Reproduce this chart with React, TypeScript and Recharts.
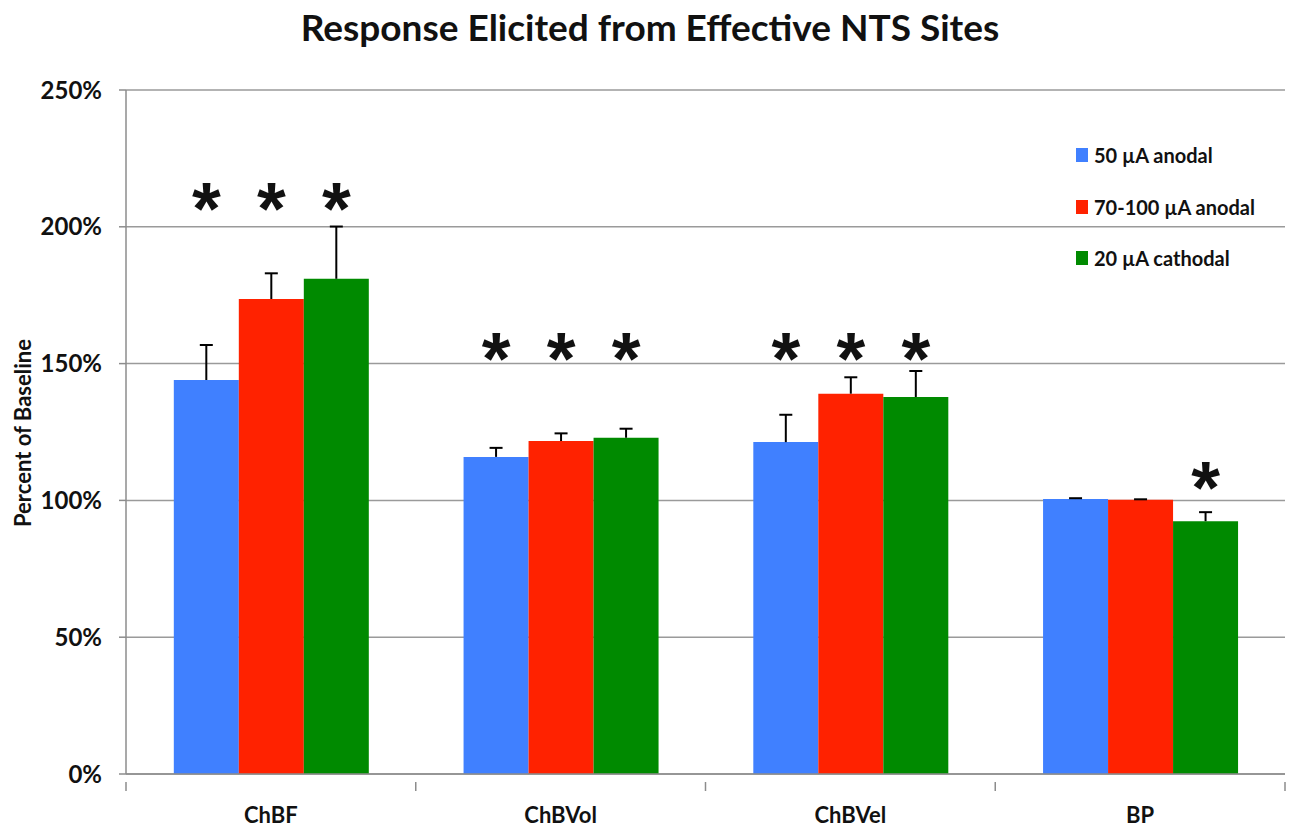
import { BarChart, Bar, XAxis, YAxis, CartesianGrid, LabelList } from "recharts";

const categories = ["ChBF", "ChBVol", "ChBVel", "BP"];
const anodal50 = [144.0, 115.9, 121.3, 100.5];
const anodal50Err = [12.8, 3.3, 10.0, 0.3];
const anodal70 = [173.6, 121.7, 139.0, 100.2];
const anodal70Err = [9.4, 2.8, 6.0, 0.2];
const cathodal20 = [181.0, 122.9, 137.8, 92.4];
const cathodal20Err = [19.1, 3.3, 9.5, 3.3];
// height (in %) where the significance asterisks sit for each category
const starLevel = [210.5, 155.7, 155.7, 108.5];
const stars50 = [true, true, true, false];
const stars70 = [true, true, true, false];
const stars20 = [true, true, true, true];
const yTicks = [0, 50, 100, 150, 200, 250];

const BLUE = "#4080ff";
const RED = "#ff2200";
const GREEN = "#008a00";
const FONT = "Lato, 'Open Sans', sans-serif";

const data = categories.map((name, i) => ({
  name,
  a50: anodal50[i],
  a70: anodal70[i],
  c20: cathodal20[i],
}));

const series = [
  { key: "a50", label: "50 µA anodal", color: BLUE, err: anodal50Err, stars: stars50 },
  { key: "a70", label: "70-100 µA anodal", color: RED, err: anodal70Err, stars: stars70 },
  { key: "c20", label: "20 µA cathodal", color: GREEN, err: cathodal20Err, stars: stars20 },
];

const W = 1300;
const H = 827;
const LEFT = 126;
const RIGHT = 15;
const BAND = (W - LEFT - RIGHT) / categories.length;

function CategoryTick(props: any) {
  const { x, y, payload, index } = props;
  const left = x - BAND / 2;
  return (
    <g>
      <line x1={left} y1={y} x2={left} y2={y + 9} stroke="#8c8c8c" strokeWidth={1.5} />
      {index === categories.length - 1 && (
        <line x1={x + BAND / 2} y1={y} x2={x + BAND / 2} y2={y + 9} stroke="#8c8c8c" strokeWidth={1.5} />
      )}
      <text x={x} y={y + 41} textAnchor="middle" fontFamily={FONT} fontWeight={700} fontSize={22} fill="#111">
        {payload.value}
      </text>
    </g>
  );
}

// upward-only error bar plus the significance asterisk, positioned from the bar's own scale
function markContent(err: number[], stars: boolean[]) {
  return (props: any) => {
    const { x, y, width, height, value, index } = props;
    if (!value) return null;
    const ppu = height / value;
    const cx = x + width / 2;
    const errTop = y - err[index] * ppu;
    const starY = y + height - starLevel[index] * ppu;
    return (
      <g>
        <line x1={cx} y1={y} x2={cx} y2={errTop} stroke="#000" strokeWidth={2} />
        <line x1={cx - 6.5} y1={errTop} x2={cx + 6.5} y2={errTop} stroke="#000" strokeWidth={2} />
        {stars[index] && (
          <text
            x={cx}
            y={starY + 36}
            textAnchor="middle"
            fontFamily="'Liberation Sans', Arial, sans-serif"
            fontWeight={700}
            fontSize={74}
            fill="#111"
          >
            *
          </text>
        )}
      </g>
    );
  };
}

export default function App() {
  return (
    <div style={{ position: "relative", width: W, height: H, background: "#fff", fontFamily: FONT }}>
      <style>{`body{margin:0}`}</style>
      <div
        style={{
          position: "absolute",
          top: 4,
          left: 0,
          width: W,
          textAlign: "center",
          fontSize: 37,
          fontWeight: 700,
          color: "#111",
        }}
      >
        Response Elicited from Effective NTS Sites
      </div>
      <div
        style={{
          position: "absolute",
          left: 22,
          top: 433,
          transform: "translate(-50%, -50%) rotate(-90deg)",
          whiteSpace: "nowrap",
          fontSize: 22,
          fontWeight: 700,
          color: "#111",
        }}
      >
        Percent of Baseline
      </div>
      <BarChart
        width={W}
        height={H}
        data={data}
        margin={{ top: 90, right: RIGHT, bottom: 0, left: 0 }}
        barCategoryGap="16.5%"
        barGap={0}
      >
        <CartesianGrid vertical={false} stroke="#9a9a9a" strokeWidth={1.5} />
        <XAxis
          dataKey="name"
          height={53}
          tick={<CategoryTick />}
          tickLine={false}
          axisLine={{ stroke: "#8c8c8c", strokeWidth: 1.5 }}
          interval={0}
        />
        <YAxis
          width={LEFT}
          domain={[0, 250]}
          ticks={yTicks}
          tickFormatter={(v: number) => `${v}%`}
          tickSize={7}
          tickMargin={17}
          tickLine={{ stroke: "#8c8c8c", strokeWidth: 1.5 }}
          axisLine={{ stroke: "#8c8c8c", strokeWidth: 1.5 }}
          tick={{ fontFamily: FONT, fontWeight: 700, fontSize: 24, fill: "#111" }}
        />
        {series.map((s) => (
          <Bar key={s.key} dataKey={s.key} fill={s.color} isAnimationActive={false}>
            <LabelList dataKey={s.key} content={markContent(s.err, s.stars)} />
          </Bar>
        ))}
      </BarChart>
      <div style={{ position: "absolute", left: 1076, top: 141 }}>
        {series.map((s) => (
          <div key={s.key} style={{ display: "flex", alignItems: "center", height: 28, marginBottom: 23.5 }}>
            <div style={{ width: 12, height: 14, background: s.color, marginRight: 6 }} />
            <span style={{ fontSize: 20, fontWeight: 700, color: "#111" }}>{s.label}</span>
          </div>
        ))}
      </div>
    </div>
  );
}
